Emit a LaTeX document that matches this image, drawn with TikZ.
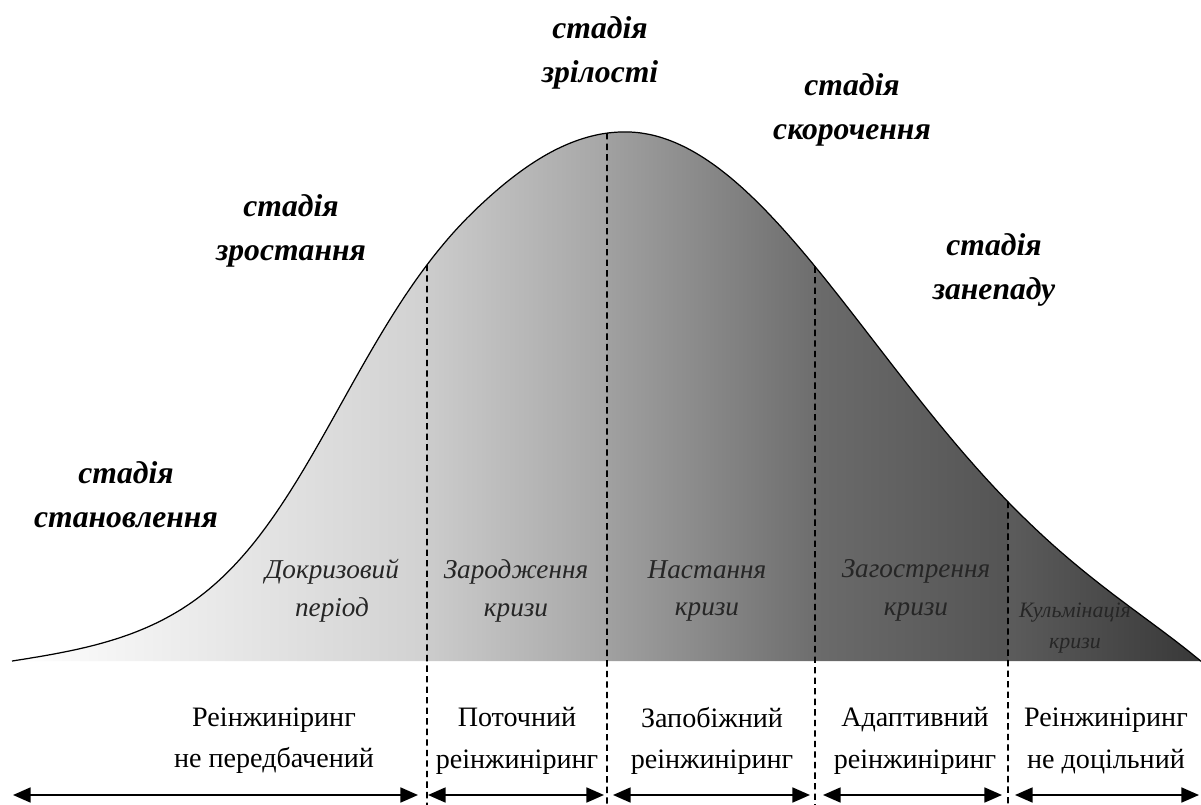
\documentclass[tikz,border=0pt]{standalone}
\usepackage{fontspec}
\setmainfont{Liberation Serif}
\usetikzlibrary{arrows.meta,intersections}
\definecolor{gA0}{gray}{1.00}
\definecolor{gA1}{gray}{0.82}
\definecolor{gB0}{gray}{0.80}
\definecolor{gB1}{gray}{0.65}
\definecolor{gC0}{gray}{0.63}
\definecolor{gC1}{gray}{0.43}
\definecolor{gD0}{gray}{0.42}
\definecolor{gD1}{gray}{0.33}
\definecolor{gE0}{gray}{0.36}
\definecolor{gE1}{gray}{0.22}
\begin{document}
\begin{tikzpicture}[x=0.02cm,y=-0.02cm,
  stage/.style={font=\fontsize{18}{25}\selectfont\bfseries\itshape, align=center, inner sep=0pt},
  phase/.style={font=\fontsize{15.5}{21.5}\selectfont\itshape, align=center, inner sep=0pt, text=black!85},
  smallphase/.style={font=\fontsize{12.5}{17.5}\selectfont\itshape, align=center, inner sep=0pt, text=black!85},
  reng/.style={font=\fontsize{16}{23.5}\selectfont, align=center, inner sep=0pt},
  sep/.style={line width=0.9pt, dash pattern=on 3.6pt off 2.4pt},
  span/.style={{Triangle[length=10pt,width=8.5pt]}-{Triangle[length=10pt,width=8.5pt]}, line width=1.1pt},
  curve/.style={line width=0.7pt}
]
\useasboundingbox (0,0) rectangle (1201,805);
\fill[white] (0,0) rectangle (1201,805);

% shaded area under the curve
\begin{scope}
\clip plot[domain=12:625, samples=160, variable=\x]
  ({\x},{661-100*(5.29*exp(-(((625-\x)/100)^2)/(2*(2.03+0.62*exp(-(((max((625-\x)/100,1.5)-1.5)/1.7)^2)))^2))-0.0554*((625-\x)/613)^8)})
  -- plot[domain=625:1201, samples=160, variable=\x]
  ({\x},{661-100*(5.29*exp(-(((\x-625)/100)^2)/12.3008)-0.359*((\x-625)/576)^8)})
  -- (1201,661) -- (12,661) -- cycle;
\shade[left color=gA0, right color=gA1] (12,120) rectangle (427,670);
\shade[left color=gB0, right color=gB1] (427,120) rectangle (607,670);
\shade[left color=gC0, right color=gC1] (607,120) rectangle (815,670);
\shade[left color=gD0, right color=gD1] (815,120) rectangle (1008,670);
\shade[left color=gE0, right color=gE1] (1008,120) rectangle (1201,670);
\end{scope}

% curve outline
\draw[curve, name path=crv] plot[domain=12:625, samples=160, variable=\x]
  ({\x},{661-100*(5.29*exp(-(((625-\x)/100)^2)/(2*(2.03+0.62*exp(-(((max((625-\x)/100,1.5)-1.5)/1.7)^2)))^2))-0.0554*((625-\x)/613)^8)})
  -- plot[domain=625:1201, samples=160, variable=\x]
  ({\x},{661-100*(5.29*exp(-(((\x-625)/100)^2)/12.3008)-0.359*((\x-625)/576)^8)});

% dashed separators
\coordinate (b1) at (427,805);
\coordinate (b2) at (607,805);
\coordinate (b3) at (815,805);
\coordinate (b4) at (1008,805);
\path[name path=v1] (427,0) -- (b1);
\path[name path=v2] (607,0) -- (b2);
\path[name path=v3] (815,0) -- (b3);
\path[name path=v4] (1008,0) -- (b4);
\path[name intersections={of=crv and v1, by=t1}];
\path[name intersections={of=crv and v2, by=t2}];
\path[name intersections={of=crv and v3, by=t3}];
\path[name intersections={of=crv and v4, by=t4}];
\draw[sep] (t1) -- (b1);
\draw[sep] (t2) -- (b2);
\draw[sep] (t3) -- (b3);
\draw[sep] (t4) -- (b4);

% span arrows
\coordinate (s1l) at (13,795);   \coordinate (s1r) at (418,795);
\coordinate (s2l) at (428,795);  \coordinate (s2r) at (604,795);
\coordinate (s3l) at (613,795);  \coordinate (s3r) at (810,795);
\coordinate (s4l) at (823,795);  \coordinate (s4r) at (1002,795);
\coordinate (s5l) at (1015,795); \coordinate (s5r) at (1199,795);
\draw[span] (s1l) -- (s1r);
\draw[span] (s2l) -- (s2r);
\draw[span] (s3l) -- (s3r);
\draw[span] (s4l) -- (s4r);
\draw[span] (s5l) -- (s5r);

% stage labels
\node[stage] (st1) at (126,495) {стадія\\становлення};
\node[stage] (st2) at (291,231) {стадія\\зростання};
\node[stage] (st3) at (600,53) {стадія\\зрілості};
\node[stage] (st4) at (852,110) {стадія\\скорочення};
\node[stage] (st5) at (994,270) {стадія\\занепаду};

% crisis phases
\node[phase] (p1) at (332,591) {Докризовий\\період};
\node[phase] (p2) at (516,591) {Зародження\\кризи};
\node[phase] (p3) at (707,591) {Настання\\кризи};
\node[phase] (p4) at (916,590) {Загострення\\кризи};
\node[smallphase] (p5) at (1075,628) {Кульмінація\\кризи};

% reengineering labels
\node[reng] (r1) at (274,741) {Реінжиніринг\\не передбачений};
\node[reng] (r2) at (517,741) {Поточний\\реінжиніринг};
\node[reng] (r3) at (712,741) {Запобіжний\\реінжиніринг};
\node[reng] (r4) at (915,741) {Адаптивний\\реінжиніринг};
\node[reng] (r5) at (1106,741) {Реінжиніринг\\не доцільний};
\end{tikzpicture}
\end{document}
